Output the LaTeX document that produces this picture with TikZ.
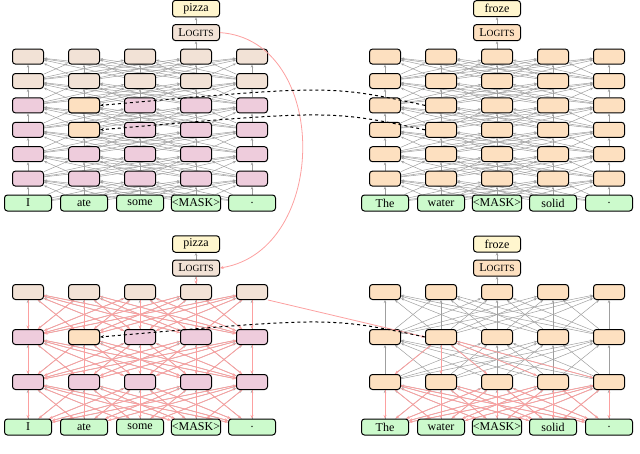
\documentclass[tikz,border=0pt]{standalone}
\usepackage{fontspec}
\setmainfont{Liberation Serif}
\usetikzlibrary{arrows.meta}
\pgfdeclarelayer{bg}
\pgfsetlayers{bg,main}
\definecolor{pinkc}{RGB}{238,204,220}
\definecolor{beigec}{RGB}{242,226,214}
\definecolor{orangec}{RGB}{253,224,192}
\definecolor{greenc}{RGB}{204,250,204}
\definecolor{yellowc}{RGB}{255,246,206}
\definecolor{gradc}{RGB}{252,160,160}
\newcommand{\logitsname}{L{\fontsize{9.5}{11}\selectfont OGITS}}
\tikzset{
  hid/.style={draw, line width=1pt, rounded corners=3pt, minimum width=31pt, minimum height=15pt},
  word/.style={draw, line width=1pt, rounded corners=3pt, fill=greenc, minimum width=47pt, minimum height=16pt, inner sep=0.5pt},
  outbox/.style={draw, line width=1pt, rounded corners=3pt, minimum width=47pt, minimum height=16pt, inner sep=3pt},
  conn/.style={gray!75, line width=0.5pt, -{Stealth[length=3pt,width=2.5pt]}},
  grad/.style={gradc, line width=0.8pt, -{Stealth[length=3.5pt,width=3pt]}},
  swap/.style={dashed, line width=1pt, -{Stealth[length=4pt]}}
}
\begin{document}
\begin{tikzpicture}[x=1pt, y=-1pt, font=\fontsize{12}{14}\selectfont]
  \useasboundingbox (0,0) rectangle (640,453);
  % four networks: name/x/y of words/layer gap/layers/lower colour/upper colour/beige layers
  \foreach \p/\xo/\yw/\dy/\n/\ca/\cb/\nb/\tka/\tkb/\tkc/\tkd/\tke/\lc/\outw in
      {tl/28/203/24.4/6/pinkc/beigec/2/I/ate/some/{<MASK>}/./4/pizza,
       tr/385/203/24.4/6/orangec/orangec/0/The/water/{<MASK>}/solid/./3/froze,
       bl/28/427/45/3/pinkc/beigec/1/I/ate/some/{<MASK>}/./4/pizza,
       br/385/427/45/3/orangec/orangec/0/The/water/{<MASK>}/solid/./3/froze}{
    \foreach \c/\w in {1/\tka,2/\tkb,3/\tkc,4/\tkd,5/\tke}
      \node[word] (\p_0_\c) at (\xo+56*\c-56, \yw) {\w};
    \foreach \r in {1,...,\n}{
      \pgfmathsetmacro{\lim}{int(\n-\nb)}
      \foreach \c in {1,...,5}{
        \ifnum\r>\lim
          \node[hid, fill=\cb] (\p_\r_\c) at (\xo+56*\c-56, \yw-\dy*\r) {};
        \else
          \node[hid, fill=\ca] (\p_\r_\c) at (\xo+56*\c-56, \yw-\dy*\r) {};
        \fi
      }
    }
    \node[outbox, fill=\cb] (\p_lg) at (\xo+56*\lc-56, \yw-\dy*\n-24) {\logitsname};
    \node[outbox, fill=yellowc] (\p_tok) at (\xo+56*\lc-56, \yw-\dy*\n-48) {\outw};
    \begin{pgfonlayer}{bg}
      \foreach \r [evaluate=\r as \q using int(\r-1)] in {1,...,\n}
        \foreach \i in {1,...,5}
          \foreach \j in {1,...,5}
            \draw[conn] (\p_\q_\i) -- (\p_\r_\j);
      \draw[conn] (\p_\n_\lc) -- (\p_lg);
      \draw[conn] (\p_lg) -- (\p_tok);
    \end{pgfonlayer}
  }
  % special layers
  \node[hid, fill=orangec] at (tl_3_2) {};
  \node[hid, fill=orangec] at (tl_4_2) {};
  \node[hid, fill=orangec] at (bl_2_2) {};
  % backward pass
  \begin{pgfonlayer}{bg}
    \foreach \r [evaluate=\r as \q using int(\r-1)] in {1,2,3}
      \foreach \i in {1,...,5}
        \foreach \j in {1,...,5}
          \draw[grad] (bl_\r_\i) -- (bl_\q_\j);
    \draw[grad] (bl_lg) -- (bl_3_4);
    \foreach \i in {1,...,5}{
      \draw[grad] (br_2_2) -- (br_1_\i);
      \foreach \j in {1,...,5}
        \draw[grad] (br_1_\i) -- (br_0_\j);
    }
  \end{pgfonlayer}
  \draw[grad] (tl_lg.east) .. controls (330,40) and (330,250) .. (bl_lg.east);
  \draw[grad] (bl_3_5.south east) -- (br_2_2.west);
  % layer swaps
  \draw[swap] (tr_4_2.west) .. controls (330,85) .. (tl_4_2.east);
  \draw[swap] (tr_3_2.west) .. controls (330,110) .. (tl_3_2.east);
  \draw[swap] (br_2_2.west) .. controls (330,317) .. (bl_2_2.east);
\end{tikzpicture}
\end{document}
